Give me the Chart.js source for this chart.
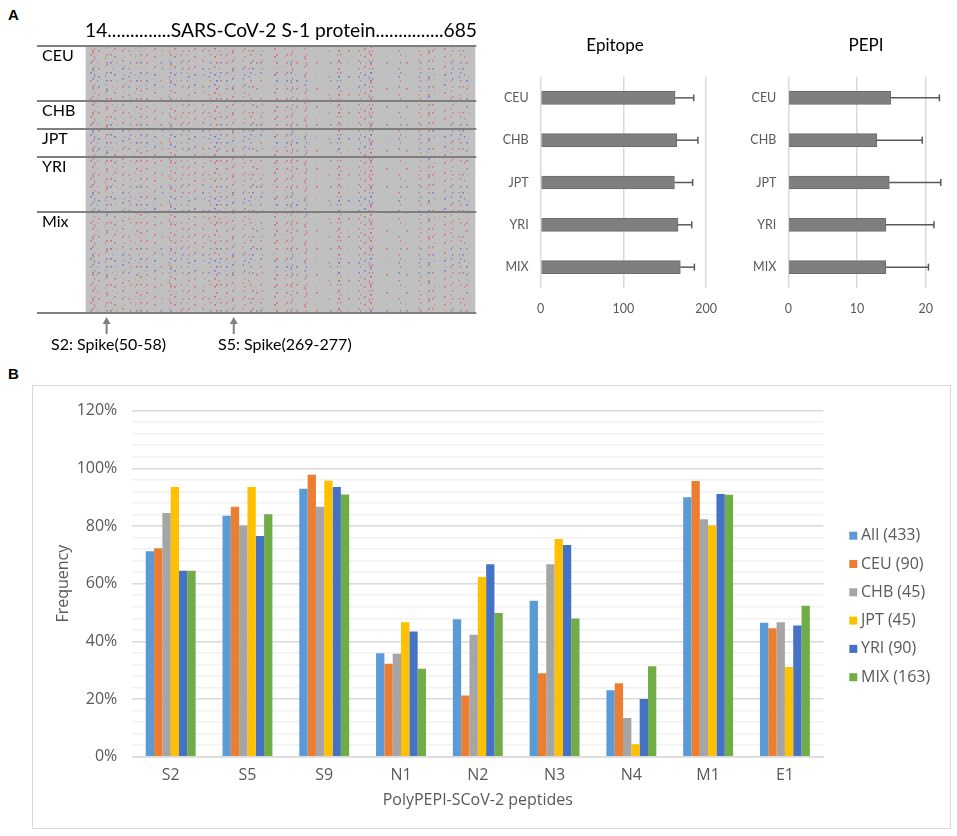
<!DOCTYPE html>
<html>
<head>
<meta charset="utf-8">
<script src="https://cdn.jsdelivr.net/npm/chart.js@4.4.0/dist/chart.umd.min.js"></script>
<style>
  body { margin: 0; background: #fff; width: 957px; height: 836px; position: relative; overflow: hidden; }
  canvas { position: absolute; }
  .tag { position: absolute; font: bold 15px 'Liberation Sans', Arial, sans-serif; line-height: 15px; color: #000; }
  #boxB { position: absolute; left: 32px; top: 385px; width: 917px; height: 442px; border: 1px solid #d9d9d9; }
</style>
</head>
<body>
<div class="tag" style="left:8px;top:7px">A</div>
<div class="tag" style="left:8px;top:366px">B</div>
<div id="boxB"></div>
<canvas id="heatChart" width="480" height="360" style="left:0;top:0"></canvas>
<canvas id="epitopeChart" width="240" height="330" style="left:490px;top:0"></canvas>
<canvas id="pepiChart" width="217" height="330" style="left:740px;top:0"></canvas>
<canvas id="freqChart" width="918" height="442" style="left:32px;top:386px"></canvas>

<script>
/* ---------- data ---------- */
// panel A, left: populations and variant columns along S-1 (residue 14..685)
const popNames = ['CEU', 'CHB', 'JPT', 'YRI', 'Mix'];
const popSizes = [90, 45, 45, 90, 163];
const variantSites = [24, 28, 36, 50, 58, 65, 79, 90, 102, 109, 119, 133, 145, 160, 168, 180, 191, 202, 217, 228,
  237, 240, 246, 257, 268, 287, 297, 302, 309, 317, 340, 343, 360, 369, 378, 393, 412, 435, 449, 452,
  467, 486, 495, 504, 507, 533, 555, 567, 590, 605, 613, 633, 645, 659, 665, 671];
const variantDensity = [0.3, 0.9, 0.3, 0.9, 0.3, 0.3, 0.5, 0.3, 0.4, 0.6, 0.7, 0.5, 0.2, 0.9, 0.7, 0.3, 0.5, 0.6, 0.3, 0.3,
  0.6, 0.4, 0.3, 0.7, 0.9, 0.6, 0.3, 0.3, 0.2, 0.3, 0.3, 0.5, 0.6, 0.8, 0.4, 0.8, 0.2, 0.2, 0.5, 0.5,
  0.2, 0.6, 0.6, 0.8, 0.5, 0.2, 0.4, 0.2, 0.7, 0.8, 0.4, 0.6, 0.6, 0.4, 0.2, 0.3];
const markedPeptides = [{ pos: 50, label: 'S2: Spike(50-58)' }, { pos: 269, label: 'S5: Spike(269-277)' }];

// panel A, right
const groupLabels = ['CEU', 'CHB', 'JPT', 'YRI', 'MIX'];
const epitopeMean = [162.5, 164.4, 161.7, 166.0, 168.8];
const epitopeSd = [22.5, 25.7, 22.0, 16.6, 17.0];
const pepiMean = [14.9, 12.9, 14.7, 14.2, 14.2];
const pepiSd = [7.1, 6.6, 7.5, 7.0, 6.2];

// panel B
const peptides = ['S2', 'S5', 'S9', 'N1', 'N2', 'N3', 'N4', 'M1', 'E1'];
const cohortLabels = ['All (433)', 'CEU (90)', 'CHB (45)', 'JPT (45)', 'YRI (90)', 'MIX (163)'];
const freqAll = [71.2, 83.5, 92.9, 35.9, 47.7, 54.1, 23.0, 90.0, 46.4];
const freqCEU = [72.3, 86.7, 97.8, 32.2, 21.2, 28.9, 25.5, 95.6, 44.5];
const freqCHB = [84.5, 80.2, 86.7, 35.7, 42.3, 66.7, 13.4, 82.3, 46.6];
const freqJPT = [93.5, 93.5, 95.7, 46.6, 62.3, 75.5, 4.3, 80.2, 31.1];
const freqYRI = [64.5, 76.5, 93.5, 43.4, 66.7, 73.4, 20.0, 91.1, 45.5];
const freqMIX = [64.5, 84.1, 90.9, 30.5, 49.8, 47.9, 31.4, 90.8, 52.3];
const cohortColors = ['#5B9BD5', '#ED7D31', '#A5A5A5', '#FFC000', '#4472C4', '#70AD47'];

const calibriLike = "Lato, 'Open Sans', sans-serif";
const excelFont = "'Open Sans', 'Noto Sans', sans-serif";

/* ---------- A: variant map ---------- */
const totalPeople = popSizes.reduce((a, b) => a + b, 0);

// speckle fill for the variant columns (texture only, not data)
function speckle(level) {
  const c = document.createElement('canvas');
  c.width = 10; c.height = 62;
  const g = c.getContext('2d');
  for (let col = 0; col < 5; col++) {
    for (let row = 0; row < 31; row++) {
      const h = (row * 7 + col * 11) % 31;
      if (h < level * 31) {
        g.fillStyle = (row + col * 2) % 5 === 0 ? 'rgba(85,80,215,0.6)' : 'rgba(226,60,70,0.55)';
        g.fillRect(col * 2, row * 2, 2, 1.5);
      }
    }
  }
  return g.createPattern(c, 'repeat');
}
const heatCtx = document.getElementById('heatChart').getContext('2d');
const speckLevels = [speckle(0.07), speckle(0.13), speckle(0.21), speckle(0.32)];
const speckFor = (d) => speckLevels[Math.min(3, Math.floor(d * 4))];

const heatDecor = {
  id: 'heatDecor',
  beforeDatasetsDraw(chart) {
    const { ctx, chartArea: a } = chart;
    ctx.save();
    ctx.fillStyle = '#C0C0C0';
    ctx.fillRect(a.left, a.top, a.right - a.left, a.bottom - a.top);
    ctx.restore();
  },
  afterDatasetsDraw(chart) {
    const { ctx, chartArea: a, scales: { x, y } } = chart;
    ctx.save();
    // population separators + labels
    let acc = 0;
    const bounds = [0];
    popSizes.forEach((n) => { acc += n; bounds.push(acc); });
    ctx.strokeStyle = '#7F7F7F';
    ctx.lineWidth = 2;
    bounds.forEach((b) => {
      const py = Math.round(y.getPixelForValue(b));
      ctx.beginPath(); ctx.moveTo(37, py); ctx.lineTo(a.right + 1, py); ctx.stroke();
    });
    ctx.fillStyle = '#000';
    ctx.font = `16px ${calibriLike}`;
    ctx.textBaseline = 'top';
    ctx.textAlign = 'left';
    popNames.forEach((name, i) => ctx.fillText(name, 42, y.getPixelForValue(bounds[i]) + 2));
    // title
    ctx.font = `19.5px ${calibriLike}`;
    ctx.textBaseline = 'middle';
    ctx.fillText('14..............SARS-CoV-2 S-1 protein...............685', 85, 31, 392);
    // arrows
    ctx.strokeStyle = '#7F7F7F'; ctx.fillStyle = '#7F7F7F'; ctx.lineWidth = 2;
    markedPeptides.forEach((p) => {
      const px = x.getPixelForValue(p.pos);
      ctx.beginPath(); ctx.moveTo(px, 322); ctx.lineTo(px, 334); ctx.stroke();
      ctx.beginPath(); ctx.moveTo(px, 317); ctx.lineTo(px - 4, 324); ctx.lineTo(px + 4, 324); ctx.closePath(); ctx.fill();
    });
    ctx.fillStyle = '#000';
    ctx.font = `16px ${calibriLike}`;
    ctx.fillText(markedPeptides[0].label, 51, 345);
    ctx.fillText(markedPeptides[1].label, 218, 345);
    ctx.restore();
  },
};

new Chart(heatCtx, {
  type: 'bar',
  data: {
    datasets: [{
      data: variantSites.map((s) => ({ x: s, y: [0, totalPeople] })),
      backgroundColor: (c) => speckFor(variantDensity[c.dataIndex] || 0),
      barThickness: 2, borderWidth: 0, borderSkipped: false,
    }],
  },
  options: {
    responsive: false, animation: false,
    layout: { padding: { left: 85.7, right: 4.7, top: 45.7, bottom: 47.3 } },
    plugins: { legend: { display: false }, tooltip: { enabled: false } },
    scales: {
      x: { type: 'linear', min: 14, max: 685, offset: false, display: false },
      y: { type: 'linear', min: 0, max: totalPeople, reverse: true, display: false },
    },
  },
  plugins: [heatDecor],
});

/* ---------- A: Epitope / PEPI bars ---------- */
function makeHBar(id, title, mean, sd, max, step, box) {
  const decor = {
    id: 'hbarDecor',
    afterDatasetsDraw(chart) {
      const { ctx, scales: { x } } = chart;
      const meta = chart.getDatasetMeta(0);
      ctx.save();
      ctx.strokeStyle = '#595959';
      ctx.lineWidth = 1.5;
      meta.data.forEach((bar, i) => {
        const x0 = x.getPixelForValue(mean[i]);
        const x1 = x.getPixelForValue(mean[i] + sd[i]);
        ctx.beginPath(); ctx.moveTo(x0, bar.y); ctx.lineTo(x1, bar.y); ctx.stroke();
        ctx.beginPath(); ctx.moveTo(x1, bar.y - 3.5); ctx.lineTo(x1, bar.y + 3.5); ctx.stroke();
      });
      ctx.fillStyle = '#000';
      ctx.font = `17px ${calibriLike}`;
      ctx.textAlign = 'center';
      ctx.textBaseline = 'middle';
      ctx.fillText(title, box.titleX, 45.7);
      ctx.restore();
    },
  };
  new Chart(document.getElementById(id), {
    type: 'bar',
    data: {
      labels: groupLabels,
      datasets: [{ data: mean, backgroundColor: '#7F7F7F', borderColor: '#6b6b6b', borderWidth: 1, barThickness: 13 }],
    },
    options: {
      indexAxis: 'y', responsive: false, animation: false,
      layout: { padding: { left: 0, right: box.right, top: 76.7, bottom: 0 } },
      plugins: { legend: { display: false }, tooltip: { enabled: false } },
      scales: {
        x: {
          min: 0, max: max,
          ticks: { stepSize: step, color: '#595959', font: { family: calibriLike, size: 12.5 }, padding: 13 },
          grid: { color: '#D9D9D9', lineWidth: 1.5, drawTicks: false },
          border: { display: false },
          afterFit: (s) => { s.height = 41.7; },
        },
        y: {
          ticks: { color: '#595959', font: { family: calibriLike, size: 12.5 }, padding: 12 },
          grid: { display: false, drawTicks: false },
          border: { display: false },
          afterFit: (s) => { s.width = box.left; },
        },
      },
    },
    plugins: [decor],
  });
}
makeHBar('epitopeChart', 'Epitope', epitopeMean, epitopeSd, 200, 100, { left: 50.7, right: 20.7, titleX: 125 });
makeHBar('pepiChart', 'PEPI', pepiMean, pepiSd, 20, 10, { left: 48.3, right: 31.3, titleX: 126 });

/* ---------- B: peptide frequency ---------- */
const freqSeries = [freqAll, freqCEU, freqCHB, freqJPT, freqYRI, freqMIX];

const freqDecor = {
  id: 'freqDecor',
  afterDraw(chart) {
    const { ctx, chartArea: a } = chart;
    ctx.save();
    ctx.fillStyle = '#595959';
    ctx.font = `16px ${excelFont}`;
    ctx.textAlign = 'center';
    ctx.textBaseline = 'middle';
    ctx.fillText('PolyPEPI-SCoV-2 peptides', (a.left + a.right) / 2, 414);
    ctx.save();
    ctx.translate(31.3, (a.top + a.bottom) / 2);
    ctx.rotate(-Math.PI / 2);
    ctx.fillText('Frequency', 0, 0);
    ctx.restore();
    // legend
    ctx.textAlign = 'left';
    cohortLabels.forEach((lab, i) => {
      const cy = 149.7 + i * 28.3;
      ctx.fillStyle = cohortColors[i];
      ctx.fillRect(817.3, cy - 4, 8, 8);
      ctx.fillStyle = '#595959';
      ctx.fillText(lab, 829, cy);
    });
    ctx.restore();
  },
};

new Chart(document.getElementById('freqChart'), {
  type: 'bar',
  data: {
    labels: peptides,
    datasets: freqSeries.map((vals, i) => ({
      label: cohortLabels[i], data: vals, backgroundColor: cohortColors[i],
      categoryPercentage: 0.65, barPercentage: 1.0,
    })),
  },
  options: {
    responsive: false, animation: false,
    layout: { padding: { left: 0, right: 126.7, top: 17.3, bottom: 0 } },
    plugins: { legend: { display: false }, tooltip: { enabled: false } },
    scales: {
      x: {
        ticks: { color: '#595959', font: { family: excelFont, size: 16 }, padding: 9 },
        grid: { display: false, drawTicks: false },
        border: { color: '#D9D9D9', width: 1.5 },
        afterFit: (s) => { s.height = 71.3; },
      },
      y: {
        min: 0, max: 120,
        ticks: {
          stepSize: 4, autoSkip: false, color: '#595959', font: { family: excelFont, size: 16 }, padding: 15,
          callback: (v) => (v % 20 === 0 ? v + '%' : ''),
        },
        grid: {
          drawTicks: false, lineWidth: 1.5,
          color: (c) => (c.tick && c.tick.value % 20 === 0 ? '#D9D9D9' : '#F2F2F2'),
        },
        border: { display: false },
        afterFit: (s) => { s.width = 100.3; },
      },
    },
  },
  plugins: [freqDecor],
});
</script>
</body>
</html>
